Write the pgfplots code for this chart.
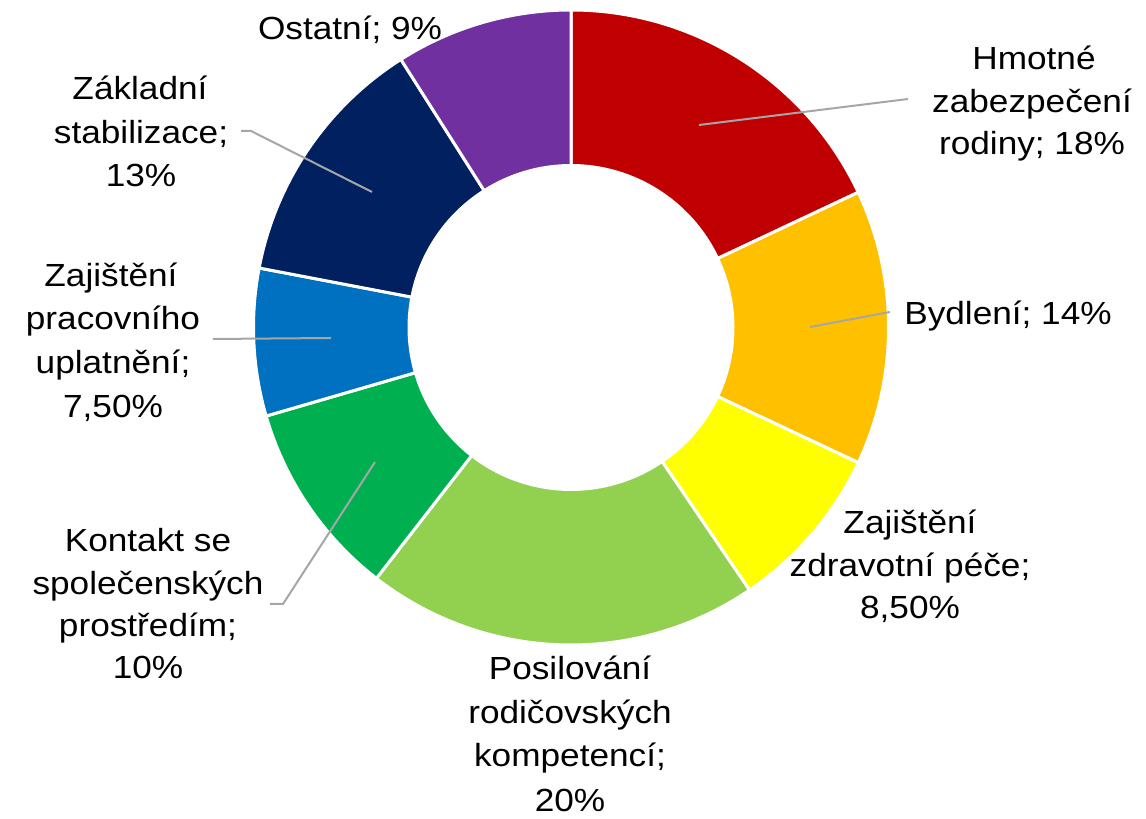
\documentclass[border=0pt]{standalone}
\usepackage{fontspec}
\setmainfont{Liberation Sans}[FakeStretch=1.1]
\usepackage{pgfplots}
\usepackage{pgfplotstable}
\pgfplotsset{compat=1.18}
\definecolor{cRed}{HTML}{C00000}
\definecolor{cOrange}{HTML}{FFC000}
\definecolor{cYellow}{HTML}{FFFF00}
\definecolor{cLGreen}{HTML}{92D050}
\definecolor{cGreen}{HTML}{00B050}
\definecolor{cBlue}{HTML}{0070C0}
\definecolor{cNavy}{HTML}{002060}
\definecolor{cPurple}{HTML}{7030A0}
\definecolor{leader}{HTML}{A6A6A6}
\pgfplotstableread{
value col
18 cRed
14 cOrange
8.5 cYellow
20 cLGreen
10 cGreen
7.5 cBlue
13 cNavy
9 cPurple
}\slices
\begin{document}
\begin{tikzpicture}[lbl/.style={anchor=base,inner sep=0pt,font=\fontsize{32bp}{40bp}\selectfont}]
\begin{axis}[width=1146bp,height=819bp,scale only axis,hide axis,clip=false,
  xmin=0,xmax=1146,ymin=-819,ymax=0]
\path (axis cs:0,0) rectangle (axis cs:1146,-819);
\coordinate (c) at (axis cs:571,-327.5);
\def\cum{0}
\pgfplotsforeachungrouped \i in {0,...,7}{%
  \pgfplotstablegetelem{\i}{value}\of\slices \let\slval\pgfplotsretval
  \pgfplotstablegetelem{\i}{col}\of\slices \let\slcol\pgfplotsretval
  \pgfmathsetmacro\sa{90-3.6*\cum}%
  \pgfmathsetmacro\ea{90-3.6*(\cum+\slval)}%
  \pgfmathsetmacro\cum{\cum+\slval}%
  \edef\cmd{\noexpand\fill[fill=\slcol,draw=white,line width=3bp] (c) ++(\sa:317.5bp) arc[start angle=\sa,end angle=\ea,radius=317.5bp] -- ([shift={(\ea:162bp)}]c) arc[start angle=\ea,end angle=\sa,radius=162bp] -- cycle;}%
  \cmd
}
\addplot[no marks,color=leader,line width=2bp] coordinates {(699,-125) (908,-99)};
\addplot[no marks,color=leader,line width=2bp] coordinates {(810,-327) (890,-312)};
\addplot[no marks,color=leader,line width=2bp] coordinates {(241,-131) (251,-131) (372,-192)};
\addplot[no marks,color=leader,line width=2bp] coordinates {(213,-339) (331,-338)};
\addplot[no marks,color=leader,line width=2bp] coordinates {(270,-604) (283,-604) (375,-462)};
\node[lbl] at (axis cs:350,-40) {Ostatní; 9\%};
\node[lbl] at (axis cs:140,-100) {Základní};
\node[lbl] at (axis cs:141,-144) {stabilizace;};
\node[lbl] at (axis cs:141,-187) {13\%};
\node[lbl] at (axis cs:111,-287) {Zajištění};
\node[lbl] at (axis cs:113,-330) {pracovního};
\node[lbl] at (axis cs:113,-374) {uplatnění;};
\node[lbl] at (axis cs:113,-418) {7,50\%};
\node[lbl] at (axis cs:148,-552) {Kontakt se};
\node[lbl] at (axis cs:148,-595) {společenských};
\node[lbl] at (axis cs:148,-637) {prostředím;};
\node[lbl] at (axis cs:148,-679) {10\%};
\node[lbl] at (axis cs:570,-680) {Posilování};
\node[lbl] at (axis cs:570,-724) {rodičovských};
\node[lbl] at (axis cs:570,-767) {kompetencí;};
\node[lbl] at (axis cs:570,-811) {20\%};
\node[lbl] at (axis cs:910,-534) {Zajištění};
\node[lbl] at (axis cs:910,-577) {zdravotní péče;};
\node[lbl] at (axis cs:910,-619) {8,50\%};
\node[lbl] at (axis cs:1008,-325) {Bydlení; 14\%};
\node[lbl] at (axis cs:1034,-70) {Hmotné};
\node[lbl] at (axis cs:1032,-113) {zabezpečení};
\node[lbl] at (axis cs:1032,-155) {rodiny; 18\%};
\end{axis}
\end{tikzpicture}
\end{document}
